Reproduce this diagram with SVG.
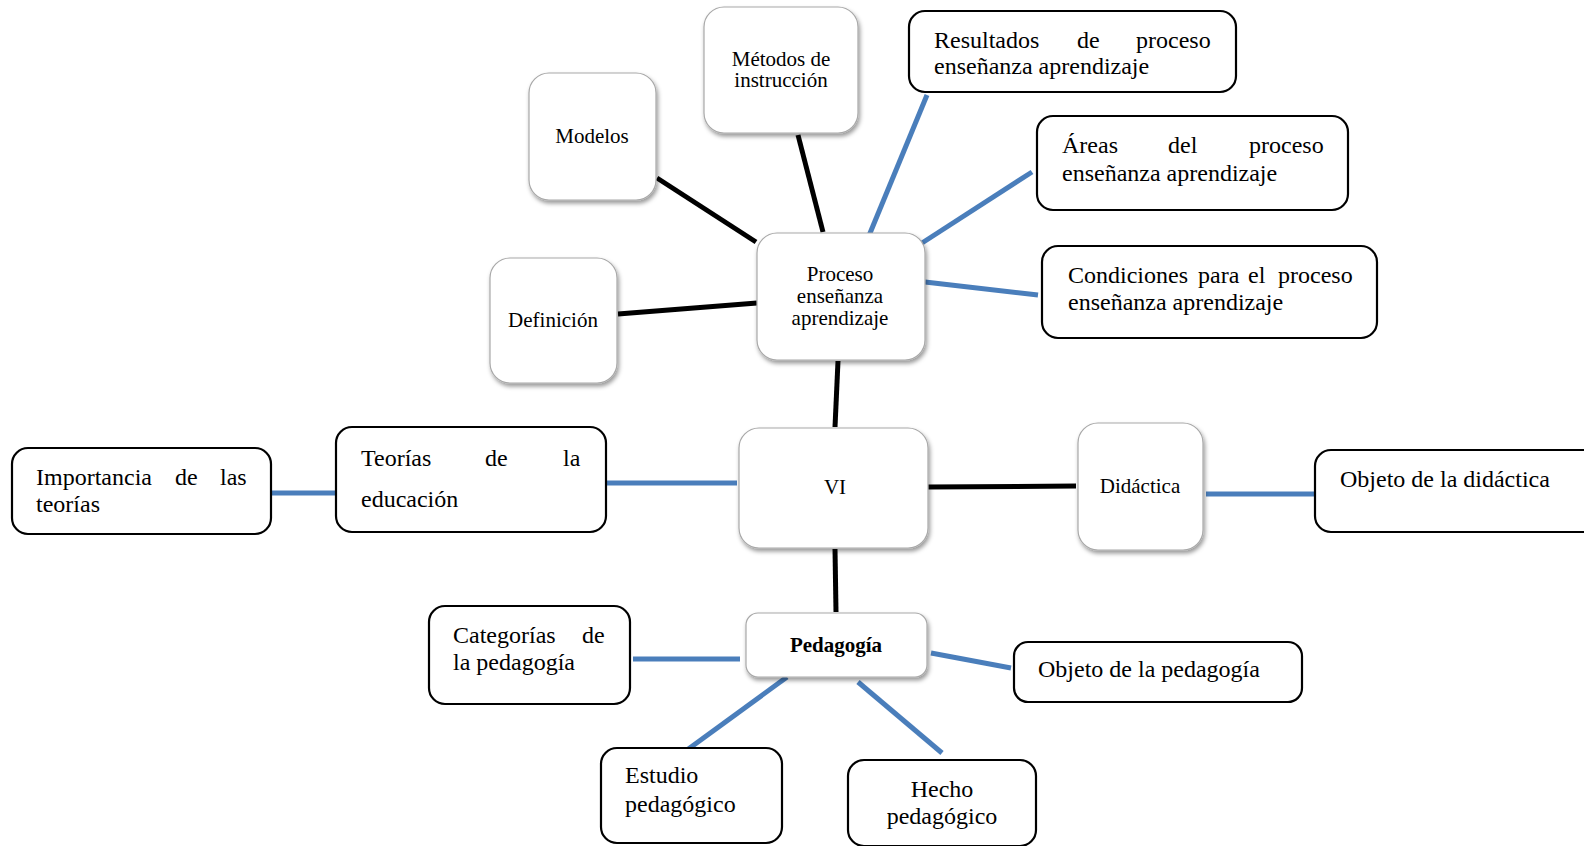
<svg xmlns="http://www.w3.org/2000/svg" width="1584" height="846" viewBox="0 0 1584 846">
<defs>
<filter id="sh" x="-20%" y="-20%" width="140%" height="150%">
<feDropShadow dx="1.5" dy="3" stdDeviation="2" flood-color="#000" flood-opacity="0.4"/>
</filter>
</defs>
<style>
.sb{fill:#fff;stroke:#a8a8a8;stroke-width:1.2;filter:url(#sh)}
.bb{fill:#fff;stroke:#000;stroke-width:2.2}
.k{stroke:#000;stroke-width:5;fill:none}
.b{stroke:#4A7EBB;stroke-width:5;fill:none}
.t21{font-family:"Liberation Serif","Times New Roman",serif;font-size:21px;fill:#000}
.t24{font-family:"Liberation Serif","Times New Roman",serif;font-size:24px;fill:#000}
.c{text-anchor:middle}
.bold{font-weight:bold}
</style>
<rect width="1584" height="846" fill="#fff"/>
<g id="connectors">
<line class="k" x1="657" y1="178" x2="756" y2="242"/>
<line class="k" x1="798" y1="135" x2="823" y2="232"/>
<line class="k" x1="618" y1="314" x2="757" y2="303"/>
<line class="k" x1="838" y1="361" x2="835" y2="427"/>
<line class="k" x1="835" y1="549" x2="836" y2="612"/>
<line class="k" x1="928" y1="487" x2="1076" y2="486"/>
<line class="b" x1="927" y1="95" x2="868" y2="238"/>
<line class="b" x1="1032" y1="172" x2="922" y2="243"/>
<line class="b" x1="925" y1="282" x2="1038" y2="295"/>
<line class="b" x1="271" y1="493" x2="337" y2="493"/>
<line class="b" x1="606" y1="483" x2="737" y2="483"/>
<line class="b" x1="1206" y1="494" x2="1315" y2="494"/>
<line class="b" x1="633" y1="659" x2="740" y2="659"/>
<line class="b" x1="931" y1="653" x2="1011" y2="668"/>
<line class="b" x1="787" y1="677" x2="687" y2="750"/>
<line class="b" x1="858" y1="682" x2="942" y2="753"/>
</g>
<g id="metodos">
<rect class="sb" x="704" y="7" width="154" height="126" rx="20"/>
<text class="t21 c" x="781" y="66">Métodos de</text>
<text class="t21 c" x="781" y="87">instrucción</text>
</g>
<g id="modelos">
<rect class="sb" x="529" y="73" width="127" height="127" rx="20"/>
<text class="t21 c" x="592" y="143">Modelos</text>
</g>
<g id="definicion">
<rect class="sb" x="490" y="258" width="127" height="125" rx="20"/>
<text class="t21 c" x="553" y="327">Definición</text>
</g>
<g id="proceso">
<rect class="sb" x="757" y="233" width="168" height="127" rx="20"/>
<text class="t21 c" x="840" y="281">Proceso</text>
<text class="t21 c" x="840" y="303">enseñanza</text>
<text class="t21 c" x="840" y="325">aprendizaje</text>
</g>
<g id="vi">
<rect class="sb" x="739" y="428" width="189" height="120" rx="20"/>
<text class="t21 c" x="835" y="494">VI</text>
</g>
<g id="didactica">
<rect class="sb" x="1078" y="423" width="125" height="127" rx="20"/>
<text class="t21 c" x="1140" y="493">Didáctica</text>
</g>
<g id="pedagogia">
<rect class="sb" x="746" y="613" width="181" height="64" rx="12"/>
<text class="t21 c bold" x="836" y="652">Pedagogía</text>
</g>
<g id="resultados">
<rect class="bb" x="909" y="11" width="327" height="81" rx="16"/>
<text class="t24" y="48"><tspan x="934">Resultados</tspan><tspan x="1077">de</tspan><tspan x="1136">proceso</tspan></text>
<text class="t24" x="934" y="74">enseñanza aprendizaje</text>
</g>
<g id="areas">
<rect class="bb" x="1037" y="116" width="311" height="94" rx="16"/>
<text class="t24" y="153"><tspan x="1062">Áreas</tspan><tspan x="1168">del</tspan><tspan x="1249">proceso</tspan></text>
<text class="t24" x="1062" y="181">enseñanza aprendizaje</text>
</g>
<g id="condiciones">
<rect class="bb" x="1042" y="246" width="335" height="92" rx="16"/>
<text class="t24" y="283"><tspan x="1068">Condiciones</tspan><tspan x="1198">para</tspan><tspan x="1248">el</tspan><tspan x="1278">proceso</tspan></text>
<text class="t24" x="1068" y="310">enseñanza aprendizaje</text>
</g>
<g id="importancia">
<rect class="bb" x="12" y="448" width="259" height="86" rx="16"/>
<text class="t24" y="485"><tspan x="36">Importancia</tspan><tspan x="175">de</tspan><tspan x="220">las</tspan></text>
<text class="t24" x="36" y="512">teorías</text>
</g>
<g id="teorias">
<rect class="bb" x="336" y="427" width="270" height="105" rx="16"/>
<text class="t24" y="466"><tspan x="361">Teorías</tspan><tspan x="485">de</tspan><tspan x="563">la</tspan></text>
<text class="t24" x="361" y="507">educación</text>
</g>
<g id="objeto-didactica">
<rect class="bb" x="1315" y="450" width="300" height="82" rx="16"/>
<text class="t24" x="1340" y="487">Objeto de la didáctica</text>
</g>
<g id="categorias">
<rect class="bb" x="429" y="606" width="201" height="98" rx="16"/>
<text class="t24" y="643"><tspan x="453">Categorías</tspan><tspan x="582">de</tspan></text>
<text class="t24" x="453" y="670">la pedagogía</text>
</g>
<g id="objeto-pedagogia">
<rect class="bb" x="1014" y="642" width="288" height="60" rx="14"/>
<text class="t24" x="1038" y="677">Objeto de la pedagogía</text>
</g>
<g id="estudio">
<rect class="bb" x="601" y="748" width="181" height="95" rx="16"/>
<text class="t24" x="625" y="783">Estudio</text>
<text class="t24" x="625" y="812">pedagógico</text>
</g>
<g id="hecho">
<rect class="bb" x="848" y="760" width="188" height="86" rx="16"/>
<text class="t24 c" x="942" y="797">Hecho</text>
<text class="t24 c" x="942" y="824">pedagógico</text>
</g>
</svg>
